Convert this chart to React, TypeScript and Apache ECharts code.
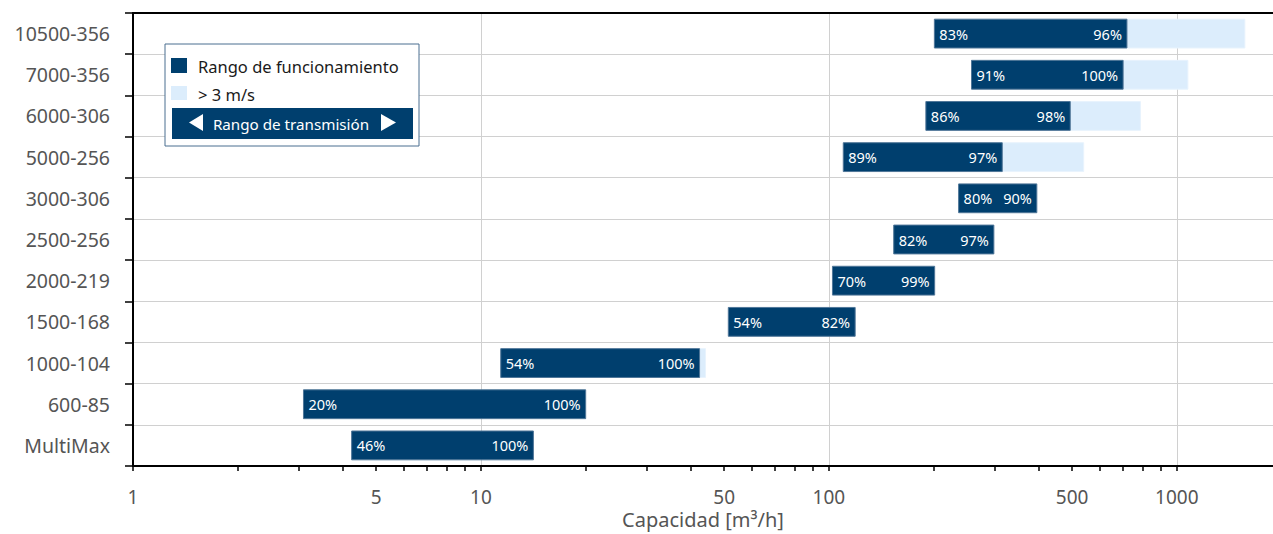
import React, { useEffect, useRef } from "react";
import * as echarts from "echarts";

const categories = ["MultiMax", "600-85", "1000-104", "1500-168", "2000-219", "2500-256", "3000-306", "5000-256", "6000-306", "7000-356", "10500-356"];
const rangeStart = [4.25, 3.09, 11.4, 51.4, 102.4, 153.6, 236, 110, 190, 257, 201];
const rangeEnd = [14.15, 20.0, 42.5, 119, 201.4, 298, 396, 315, 494, 701, 719];
const highSpeedEnd: (number | null)[] = [null, null, 44.2, null, null, null, null, 540, 786, 1076, 1569];
const startPct = ["46%", "20%", "54%", "54%", "70%", "82%", "80%", "89%", "86%", "91%", "83%"];
const endPct = ["100%", "100%", "100%", "82%", "99%", "97%", "90%", "97%", "98%", "100%", "96%"];
const xMin = 1;
const xMax = 1890;
const minorTickValues = [1, 2, 3, 4, 5, 6, 7, 8, 9, 10, 20, 30, 40, 50, 60, 70, 80, 90, 100, 200, 300, 400, 500, 600, 700, 800, 900, 1000];
const xLabelValues = [1, 5, 10, 50, 100, 500, 1000];
const legendLabels = ["Rango de funcionamiento", "> 3 m/s", "Rango de transmisión"];

const DARK = "#003f6e";
const LIGHT = "#dcedfc";
const FONT = "'Noto Sans', 'Open Sans', sans-serif";

export default function App() {
  const ref = useRef<HTMLDivElement>(null);
  useEffect(() => {
    document.body.style.margin = "0";
    const chart = echarts.init(ref.current!, null, { renderer: "svg" });
    const data = categories.map((c, i) => [i, rangeStart[i], rangeEnd[i], highSpeedEnd[i] ?? rangeEnd[i]]);
    chart.setOption({
      animation: false,
      textStyle: { fontFamily: FONT },
      grid: { left: 133, right: 0, top: 13, bottom: 68, containLabel: false, outerBoundsMode: "none" },
      xAxis: [
        {
          type: "log",
          logBase: 10,
          min: xMin,
          max: xMax,
          position: "bottom",
          name: "Capacidad [m³/h]",
          nameLocation: "middle",
          nameGap: 43,
          nameMoveOverlap: false,
          nameTextStyle: { fontSize: 20, color: "#555", fontFamily: FONT, verticalAlign: "top" },
          axisLine: { show: true, lineStyle: { color: "#000", width: 2 } },
          axisTick: { show: true, length: 5, lineStyle: { color: "#000", width: 1.5 }, customValues: minorTickValues },
          axisLabel: { show: true, customValues: xLabelValues, formatter: (v: number) => String(Math.round(v)), fontSize: 19, color: "#555", margin: 21, fontFamily: FONT },
          splitLine: { show: false },
        },
        {
          type: "log",
          logBase: 10,
          min: xMin,
          max: xMax,
          position: "top",
          axisLine: { show: true, lineStyle: { color: "#000", width: 2 } },
          axisTick: { show: false },
          axisLabel: { show: false },
          splitLine: { show: true, lineStyle: { color: "#d0d0d0", width: 1 } },
        },
      ],
      yAxis: {
        type: "category",
        data: categories,
        axisLine: { show: true, lineStyle: { color: "#000", width: 2 } },
        axisTick: { show: true, length: 8, lineStyle: { color: "#000", width: 1.5 } },
        axisLabel: { fontSize: 19.5, color: "#555", margin: 23, fontFamily: FONT },
        splitLine: { show: true, lineStyle: { color: "#d0d0d0", width: 1 } },
      },
      series: [
        {
          type: "custom",
          xAxisIndex: 0,
          data,
          renderItem: (params: any, api: any) => {
            const i = params.dataIndex;
            const cat = api.value(0);
            const s = api.value(1);
            const e = api.value(2);
            const l = api.value(3);
            const p0 = api.coord([s, cat]);
            const p1 = api.coord([e, cat]);
            const p2 = api.coord([l, cat]);
            const band = Math.abs(api.coord([s, 0])[1] - api.coord([s, 1])[1]);
            const h = band * 0.7;
            const y = p0[1] - h / 2;
            const children: any[] = [];
            if (l > e) {
              children.push({ type: "rect", shape: { x: p1[0], y, width: p2[0] - p1[0], height: h }, style: { fill: LIGHT, stroke: "#e8f3fd", lineWidth: 1 } });
            }
            children.push({ type: "rect", shape: { x: p0[0], y, width: p1[0] - p0[0], height: h }, style: { fill: DARK, stroke: "#4f7698", lineWidth: 1 } });
            children.push({ type: "text", x: p0[0] + 5, y: p0[1], style: { text: startPct[i], fill: "#fff", fontSize: 14.5, fontFamily: FONT, align: "left", verticalAlign: "middle" } });
            children.push({ type: "text", x: p1[0] - 5, y: p0[1], style: { text: endPct[i], fill: "#fff", fontSize: 14.5, fontFamily: FONT, align: "right", verticalAlign: "middle" } });
            return { type: "group", children };
          },
        },
      ],
      graphic: [
        { type: "rect", z: 100, shape: { x: 165, y: 44, width: 254, height: 102 }, style: { fill: "#fff", stroke: "#4a6f90", lineWidth: 1 } },
        { type: "rect", z: 101, shape: { x: 171, y: 58, width: 16, height: 15 }, style: { fill: DARK } },
        { type: "text", z: 101, x: 198, y: 66, style: { text: legendLabels[0], fill: "#1a1a1a", fontSize: 16.5, fontFamily: FONT, verticalAlign: "middle" } },
        { type: "rect", z: 101, shape: { x: 171, y: 86, width: 16, height: 14 }, style: { fill: LIGHT } },
        { type: "text", z: 101, x: 198, y: 94, style: { text: legendLabels[1], fill: "#1a1a1a", fontSize: 16.5, fontFamily: FONT, verticalAlign: "middle" } },
        { type: "rect", z: 101, shape: { x: 172, y: 108, width: 241, height: 31 }, style: { fill: DARK } },
        { type: "polygon", z: 102, shape: { points: [[189, 122.5], [203, 114], [203, 131]] }, style: { fill: "#fff" } },
        { type: "text", z: 102, x: 291, y: 124, style: { text: legendLabels[2], fill: "#fff", fontSize: 15.2, fontFamily: FONT, align: "center", verticalAlign: "middle" } },
        { type: "polygon", z: 102, shape: { points: [[381, 114], [381, 131], [396, 122.5]] }, style: { fill: "#fff" } },
      ],
    });
    return () => chart.dispose();
  }, []);
  return <div ref={ref} style={{ width: 1273, height: 534 }} />;
}
